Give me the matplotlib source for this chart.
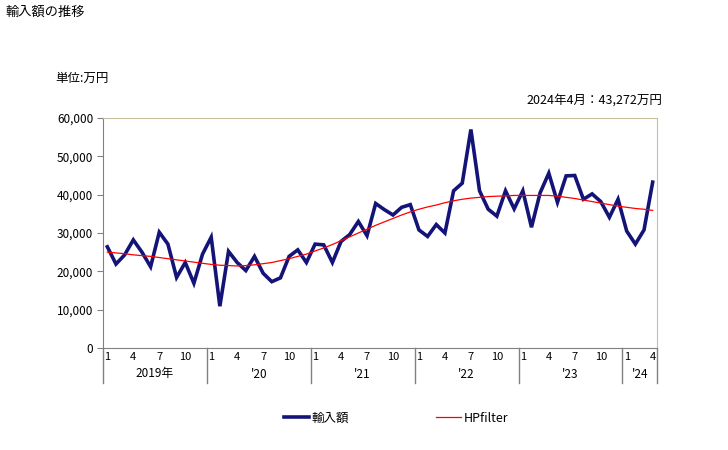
import matplotlib as mpl
mpl.use('Agg')
import matplotlib.pyplot as plt
import matplotlib.transforms as mtransforms
import numpy as np

plt.rcParams['font.family'] = ['Noto Sans CJK JP', 'DejaVu Sans']

# 2019年1月～2024年4月 (万円)
imports = [26.4, 21.9, 24.3, 28.2, 25.0, 21.2, 30.2, 27.1, 18.4, 22.3, 16.9, 24.5,
           28.9, 10.9, 25.2, 22.3, 20.2, 23.9, 19.5, 17.3, 18.3, 23.9, 25.6, 22.3,
           27.1, 26.9, 22.3, 27.8, 29.6, 33.0, 29.3, 37.7, 36.1, 34.7, 36.7, 37.4,
           30.8, 29.1, 32.2, 30.0, 41.0, 43.0, 57.0, 41.0, 36.2, 34.4, 41.0, 36.3,
           41.0, 31.5, 40.5, 45.6, 38.0, 44.9, 45.0, 38.8, 40.2, 38.2, 34.1, 38.8,
           30.5, 27.1, 30.8, 43.272]
hp_filter = [25.0, 24.8, 24.6, 24.3, 24.1, 23.9, 23.6, 23.3, 23.0, 22.7, 22.4, 22.1,
             21.8, 21.6, 21.5, 21.4, 21.5, 21.7, 22.0, 22.3, 22.8, 23.3, 23.9, 24.5,
             25.3, 26.1, 27.0, 28.0, 29.0, 30.0, 31.0, 32.0, 32.9, 33.8, 34.7, 35.5,
             36.2, 36.8, 37.3, 37.9, 38.4, 38.8, 39.1, 39.3, 39.5, 39.6, 39.7, 39.8,
             39.8, 39.8, 39.8, 39.8, 39.6, 39.3, 39.0, 38.6, 38.2, 37.8, 37.4, 37.0,
             36.7, 36.4, 36.2, 35.9]
imports = [v * 1000 for v in imports]
hp_filter = [v * 1000 for v in hp_filter]

years = ['2019年', "'20", "'21", "'22", "'23", "'24"]
months_in_year = [12, 12, 12, 12, 12, 4]
month_labels = ['1', '4', '7', '10']

W, H = 728, 450
fig = plt.figure(figsize=(W / 100, H / 100), dpi=100)
ax = fig.add_axes([103 / W, 1 - 348 / H, 554 / W, 230 / H])

x = np.arange(len(imports))
ax.plot(x, imports, color='#141478', lw=2.6, solid_joinstyle='miter', label='輸入額')
ax.plot(x, hp_filter, color='#ff0000', lw=0.9, label='HPfilter')

ax.set_xlim(-0.5, len(imports) - 0.5)
ax.set_ylim(0, 60000)
ax.set_yticks(range(0, 60001, 10000))
ax.set_yticklabels([f'{v:,}' for v in range(0, 60001, 10000)])
ax.tick_params(axis='y', direction='out', length=4, color='#808080', labelsize=8.5, pad=3)

# 月ラベル
ticks, labels = [], []
start = 0
for n in months_in_year:
    for m in range(n):
        if str(m + 1) in month_labels:
            ticks.append(start + m)
            labels.append(str(m + 1))
    start += n
ax.set_xticks(ticks)
ax.set_xticklabels(labels)
ax.tick_params(axis='x', length=0, labelsize=8, pad=3)

for s in ['left', 'bottom']:
    ax.spines[s].set_color('#808080')
for s in ['top', 'right']:
    ax.spines[s].set_color('#c8bf9f')

# 年の区切りと年ラベル
trans = mtransforms.blended_transform_factory(ax.transData, ax.transAxes)
drop = (383 - 348) / 230
start = 0
bounds = [-0.5]
for yr, n in zip(years, months_in_year):
    ax.text(start + (n - 1) / 2, -(374 - 348) / 230, yr, transform=trans,
            ha='center', va='center', fontsize=8.5)
    start += n
    bounds.append(start - 0.5)
for b in bounds:
    ax.plot([b, b], [0, -drop], transform=trans, color='#808080', lw=1, clip_on=False)

fig.text(5 / W, 1 - 12 / H, '輸入額の推移', fontsize=9.5, ha='left', va='center')
fig.text(55 / W, 1 - 78 / H, '単位:万円', fontsize=9, ha='left', va='center')
fig.text(662 / W, 1 - 100 / H, '2024年4月：43,272万円', fontsize=9, ha='right', va='center')

fig.legend(loc='center', bbox_to_anchor=(396 / W, 1 - 418 / H), ncol=2, frameon=False,
           fontsize=9, handlelength=2, handletextpad=0.2, columnspacing=7)

fig.savefig('out.png', dpi=100)
